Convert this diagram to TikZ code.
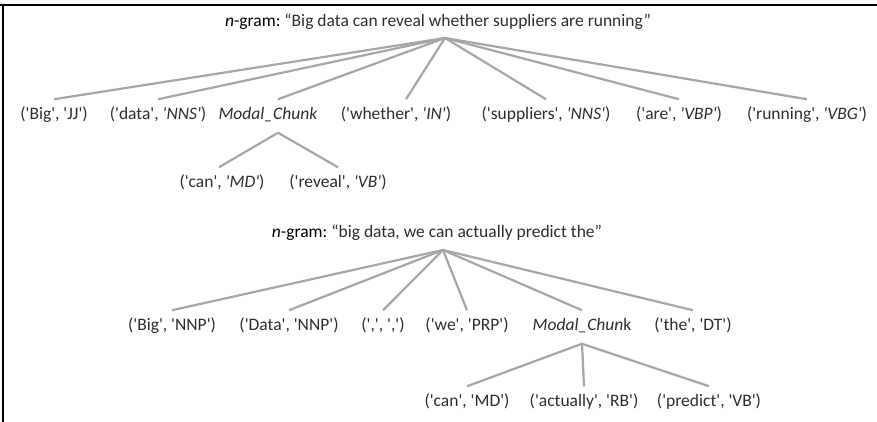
\documentclass[tikz,border=0pt]{standalone}
\usepackage{fontspec}
\setmainfont{Carlito}[Ligatures=TeXOff]
\usepackage{tikz}
\usetikzlibrary{positioning}

\definecolor{linegray}{RGB}{166,166,166}
\definecolor{textgray}{RGB}{45,45,45}
\newcommand{\tg}[2]{('#1', #2)}
\frenchspacing

\begin{document}
\begin{tikzpicture}[
	x=1pt, y=-1pt,
	font=\fontsize{17.5}{20}\selectfont,
	tok/.style = {inner xsep=0pt, inner ysep=8.3pt, text height=12pt, text depth=4.5pt, text=textgray},
	head/.style = {inner sep=0pt, text=textgray},
	edge/.style = {draw=linegray, line width=2.2pt}
  ]
	\useasboundingbox (0,0) rectangle (877,422);
	\draw[line width=2pt] (0,5) -- (877,5);
	\draw[line width=2pt] (2.5,4) -- (2.5,422);

	% first n-gram
	\node[head] (title1) at (438,22) {\textcolor{black}{\textit{n}-gram:} “Big data can reveal whether suppliers are running”};
	\coordinate (@r1) at (445,38);

	\node[tok] (b1) at (54,116) {\tg{Big}{'JJ'}};
	\node[tok] (d1) at (158,116) {\tg{data}{\textit{'NNS'}}};
	\node[tok] (mc1) at (268,116) {\textit{Modal\_Chunk}};
	\node[tok] (wh) at (396,116) {\tg{whether}{\textit{'IN'}}};
	\node[tok] (su) at (546,116) {\tg{suppliers}{\textit{'NNS'}}};
	\node[tok] (ar) at (679,116) {\tg{are}{\textit{'VBP'}}};
	\node[tok] (ru) at (807,116) {\tg{running}{\textit{'VBG'}}};

	\node[tok] (can1) at (222,184) {\tg{can}{\textit{'MD'}}};
	\node[tok] (rev) at (338,184) {\tg{reveal}{\textit{'VB'}}};

	\draw[edge] (@r1) -- (b1.north);
	\draw[edge] (@r1) -- (d1.north);
	\draw[edge] (@r1) -- ([xshift=10pt]mc1.north);
	\draw[edge] (@r1) -- ([xshift=10pt]wh.north);
	\draw[edge] (@r1) -- (su.north);
	\draw[edge] (@r1) -- (ar.north);
	\draw[edge] (@r1) -- (ru.north);
	\draw[edge] ([xshift=10pt]mc1.south) -- ([xshift=-3pt]can1.north);
	\draw[edge] ([xshift=10pt]mc1.south) -- (rev.north);

	% second n-gram
	\node[head] (title2) at (437,233) {\textcolor{black}{\textit{n}-gram:} “big data, we can actually predict the”};
	\coordinate (@r2) at (443,250);

	\node[tok] (b2) at (172,327) {\tg{Big}{'NNP'}};
	\node[tok] (d2) at (289,327) {\tg{Data}{'NNP'}};
	\node[tok] (cm) at (383,327) {\tg{,}{','}};
	\node[tok] (we) at (467,327) {\tg{we}{'PRP'}};
	\node[tok] (mc2) at (582,327) {\textit{Modal\_Chun}k};
	\node[tok] (th) at (693,327) {\tg{the}{'DT'}};

	\node[tok] (can2) at (467,403) {\tg{can}{'MD'}};
	\node[tok] (act) at (584,403) {\tg{actually}{'RB'}};
	\node[tok] (pr) at (709,403) {\tg{predict}{'VB'}};

	\draw[edge] (@r2) -- (b2.north);
	\draw[edge] (@r2) -- (d2.north);
	\draw[edge] (@r2) -- (cm.north);
	\draw[edge] (@r2) -- (we.north);
	\draw[edge] (@r2) -- (mc2.north);
	\draw[edge] (@r2) -- (th.north);
	\draw[edge] (mc2.south) -- (can2.north);
	\draw[edge] (mc2.south) -- (act.north);
	\draw[edge] (mc2.south) -- (pr.north);

\end{tikzpicture}
\end{document}
